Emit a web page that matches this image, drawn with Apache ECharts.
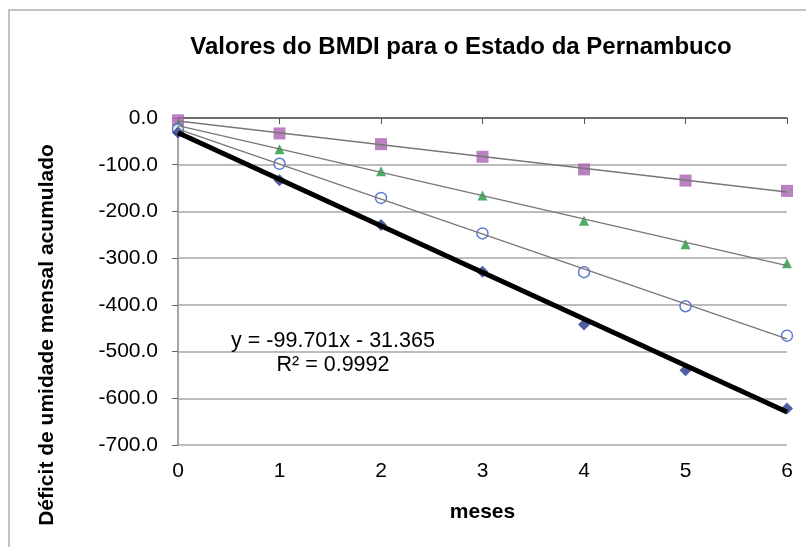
<!DOCTYPE html>
<html>
<head>
<meta charset="utf-8">
<script src="https://cdn.jsdelivr.net/npm/echarts@6/dist/echarts.min.js"></script>
<style>
  html, body { margin: 0; padding: 0; background: #fff; }
  #chart { width: 806px; height: 547px; }
</style>
</head>
<body>
<div id="chart"></div>
<script>
// meses 0..6
var meses = [0, 1, 2, 3, 4, 5, 6];
// valores
var serieQuadrado = [-5, -33, -56, -83, -110, -134, -156];
var serieTriangulo = [-15, -67, -114, -166, -220, -270, -311];
var serieCirculo = [-24, -98, -171, -247, -330, -403, -466];
var serieLosango = [-31, -133, -229, -329, -442, -540, -622];

// linha de tendência mostrada no gráfico
var tendA = -99.701;
var tendB = -31.365;

var fonte = "Liberation Sans, Arial, Helvetica, sans-serif";

function pares(ys) {
  return meses.map(function (x, i) { return [x, ys[i]]; });
}

// regressão linear simples (como a linha de tendência do Excel)
function tendencia(ys) {
  var n = meses.length, sx = 0, sy = 0, sxy = 0, sxx = 0;
  for (var i = 0; i < n; i++) {
    sx += meses[i]; sy += ys[i];
    sxy += meses[i] * ys[i]; sxx += meses[i] * meses[i];
  }
  var a = (n * sxy - sx * sy) / (n * sxx - sx * sx);
  var b = (sy - a * sx) / n;
  return [[0, b], [6, a * 6 + b]];
}

var myChart = echarts.init(document.getElementById("chart"));

var option = {
  animation: false,
  textStyle: { fontFamily: fonte },
  grid: { left: 178, right: 19, top: 118, bottom: 102 },
  xAxis: [
    {
      type: "value",
      min: 0,
      max: 6,
      interval: 1,
      position: "bottom",
      axisLine: { show: false },
      axisTick: { show: false },
      splitLine: { show: false },
      axisLabel: { fontSize: 21, color: "#000", margin: 16 },
      name: "meses",
      nameLocation: "middle",
      nameGap: 57,
      nameTextStyle: { fontSize: 21, fontWeight: "bold", color: "#000" },
    },
    {
      type: "value",
      min: 0,
      max: 6,
      interval: 1,
      position: "top",
      axisLine: { show: true, lineStyle: { color: "#555", width: 1.5 } },
      axisTick: { show: true, inside: true, length: 6, lineStyle: { color: "#555" } },
      axisLabel: { show: false },
      splitLine: { show: false },
    },
  ],
  yAxis: [
    {
      type: "value",
      min: -700,
      max: 0,
      interval: 100,
      axisLine: { show: true, lineStyle: { color: "#666", width: 1.5 } },
      axisTick: { show: true, length: 6, lineStyle: { color: "#666" } },
      axisLabel: {
        fontSize: 21,
        color: "#000",
        margin: 20,
        formatter: function (v) { return v.toFixed(1); },
      },
      splitLine: { show: true, lineStyle: { color: "#a6a6a6", width: 1.5 } },
    },
    {
      type: "value",
      min: -700,
      max: 0,
      position: "right",
      axisLine: { show: true, lineStyle: { color: "#a6a6a6", width: 2 } },
      axisTick: { show: false },
      axisLabel: { show: false },
      splitLine: { show: false },
    },
  ],
  graphic: [
    {
      type: "polyline",
      shape: { points: [[9, 547], [9, 10], [806, 10]] },
      style: { stroke: "#b0b0b0", lineWidth: 1.5, fill: null },
    },
    {
      type: "text",
      x: 461,
      y: 47,
      style: {
        text: "Valores do BMDI para o Estado da Pernambuco",
        fontFamily: fonte,
        fontSize: 24,
        fontWeight: "bold",
        fill: "#000",
        textAlign: "center",
        textVerticalAlign: "middle",
      },
    },
    {
      type: "text",
      x: 47,
      y: 335,
      rotation: Math.PI / 2,
      style: {
        text: "Déficit de umidade mensal acumulado",
        fontFamily: fonte,
        fontSize: 21,
        fontWeight: "bold",
        fill: "#000",
        textAlign: "center",
        textVerticalAlign: "middle",
      },
    },
    {
      type: "text",
      x: 333,
      y: 353,
      z: 10,
      style: {
        text: "y = -99.701x - 31.365\nR² = 0.9992",
        fontFamily: fonte,
        fontSize: 21.5,
        lineHeight: 24,
        fill: "#000",
        textAlign: "center",
        textVerticalAlign: "middle",
      },
    },
  ],
  series: [
    {
      type: "scatter",
      data: pares(serieQuadrado),
      symbol: "rect",
      symbolSize: 12,
      itemStyle: { color: "#a862b0" },
      z: 3,
    },
    {
      type: "scatter",
      data: pares(serieTriangulo),
      symbol: "triangle",
      symbolSize: 10,
      itemStyle: { color: "#1f9a3f" },
      z: 3,
    },
    {
      type: "scatter",
      data: pares(serieCirculo),
      symbol: "circle",
      symbolSize: 11,
      itemStyle: { color: "#fff", borderColor: "#3a5bc7", borderWidth: 1.5 },
      z: 3,
    },
    {
      type: "scatter",
      data: pares(serieLosango),
      symbol: "diamond",
      symbolSize: 12,
      itemStyle: { color: "#24378a" },
      z: 3,
    },
    // linhas de tendência
    {
      type: "line",
      data: tendencia(serieQuadrado),
      showSymbol: false,
      lineStyle: { color: "#777", width: 1.3 },
      z: 4,
    },
    {
      type: "line",
      data: tendencia(serieTriangulo),
      showSymbol: false,
      lineStyle: { color: "#777", width: 1.3 },
      z: 4,
    },
    {
      type: "line",
      data: tendencia(serieCirculo),
      showSymbol: false,
      lineStyle: { color: "#777", width: 1.3 },
      z: 4,
    },
    {
      type: "line",
      data: [[0, tendB], [6, tendA * 6 + tendB]],
      showSymbol: false,
      lineStyle: { color: "#000", width: 5 },
      z: 5,
    },
  ],
};

myChart.setOption(option);
window.addEventListener("resize", myChart.resize);
</script>
</body>
</html>
